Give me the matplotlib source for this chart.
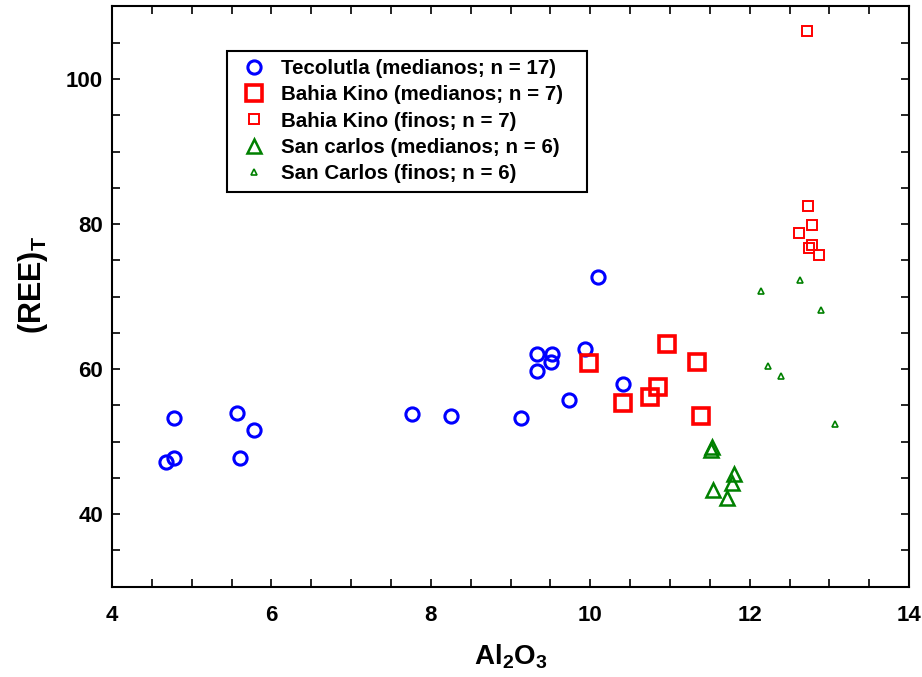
import numpy as np
import matplotlib
matplotlib.use('Agg')
import matplotlib.pyplot as plt

plt.rcParams['font.family'] = ['Liberation Sans', 'DejaVu Sans']
plt.rcParams['font.weight'] = 'bold'
plt.rcParams['mathtext.fontset'] = 'custom'
plt.rcParams['mathtext.rm'] = 'Liberation Sans:bold'
plt.rcParams['mathtext.bf'] = 'Liberation Sans:bold'

# Tecolutla (medianos; n = 17)
teco_al = [4.68, 4.78, 4.78, 5.57, 5.78, 5.61, 7.76, 8.25, 9.13,
           9.33, 9.33, 9.52, 9.51, 9.93, 9.73, 10.10, 10.41]
teco_ree = [47.2, 47.8, 53.3, 54.0, 51.6, 47.8, 53.8, 53.5, 53.2,
            62.1, 59.8, 62.1, 61.0, 62.8, 55.8, 72.7, 57.9]

# Bahia Kino (medianos; n = 7)
bkm_al = [9.98, 10.96, 11.34, 10.41, 10.75, 10.85, 11.39]
bkm_ree = [60.9, 63.4, 61.0, 55.3, 56.1, 57.6, 53.6]

# Bahia Kino (finos; n = 7)
bkf_al = [12.72, 12.73, 12.78, 12.62, 12.75, 12.78, 12.87]
bkf_ree = [106.6, 82.5, 79.9, 78.8, 76.7, 77.1, 75.8]

# San carlos (medianos; n = 6)
scm_al = [11.52, 11.53, 11.80, 11.78, 11.54, 11.72]
scm_ree = [48.9, 49.2, 45.6, 44.3, 43.4, 42.2]

# San Carlos (finos; n = 6)
scf_al = [12.14, 12.63, 12.90, 12.23, 12.39, 13.07]
scf_ree = [70.8, 72.3, 68.2, 60.4, 59.1, 52.4]

fig = plt.figure(figsize=(9.22, 6.77), dpi=100)
ax = fig.add_axes([0.1215, 0.1334, 0.8645, 0.8570])

ax.plot(teco_al, teco_ree, 'o', mfc='none', mec='#0000ff', ms=9.5, mew=2.2,
        label='Tecolutla (medianos; n = 17)')
ax.plot(bkm_al, bkm_ree, 's', mfc='none', mec='#ff0000', ms=11.5, mew=2.6,
        label='Bahia Kino (medianos; n = 7)')
ax.plot(bkf_al, bkf_ree, 's', mfc='none', mec='#ff0000', ms=7.5, mew=1.4,
        label='Bahia Kino (finos; n = 7)')
ax.plot(scm_al, scm_ree, '^', mfc='none', mec='#008000', ms=9.5, mew=1.8,
        label='San carlos (medianos; n = 6)')
ax.plot(scf_al, scf_ree, '^', mfc='none', mec='#008000', ms=5, mew=1.2,
        label='San Carlos (finos; n = 6)')

ax.set_xlim(4, 14)
ax.set_ylim(30, 110)
ax.set_xticks(np.arange(4, 14.1, 2))
ax.set_xticks(np.arange(4, 14.1, 0.5), minor=True)
ax.set_yticks([40, 60, 80, 100])
ax.set_yticks(np.arange(35, 110, 5), minor=True)
ax.tick_params(which='both', direction='in', top=True, right=True,
               length=6, width=1.2, labelsize=16)
ax.tick_params(axis='x', pad=13)
ax.tick_params(axis='y', pad=6.5)
for s in ax.spines.values():
    s.set_linewidth(1.5)

ax.set_xlabel('Al$_2$O$_3$', fontsize=20, fontweight='bold', labelpad=12)
ax.set_ylabel('(REE)$_\\mathbf{T}$', fontsize=22, fontweight='bold')
ax.yaxis.set_label_coords(-0.078, 0.52)

leg = ax.legend(loc='upper left', bbox_to_anchor=(0.144, 0.688, 0.452, 0.236),
                mode='expand', borderaxespad=0, fancybox=False, framealpha=1,
                edgecolor='black', labelspacing=0.35,
                handletextpad=0.44, borderpad=0.42, handlelength=1.8,
                prop={'weight': 'bold', 'size': 14.8})
leg.get_frame().set_linewidth(1.5)

fig.savefig('out.png', dpi=100)
